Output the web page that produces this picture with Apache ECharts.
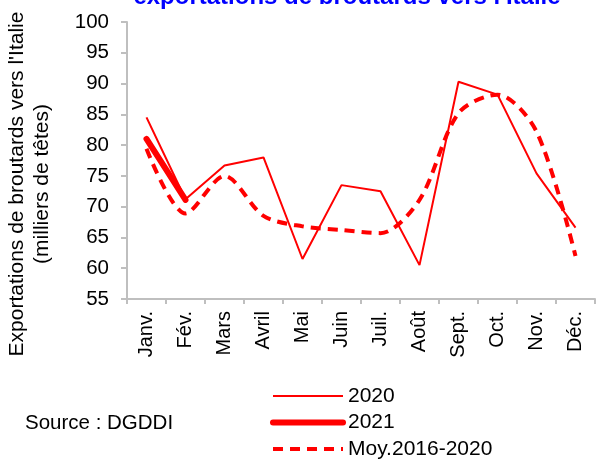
<!DOCTYPE html>
<html>
<head>
<meta charset="utf-8">
<script src="https://cdn.jsdelivr.net/npm/echarts@6/dist/echarts.min.js"></script>
<style>
  html, body { margin: 0; padding: 0; background: #fff; }
  #chart { width: 597px; height: 461px; }
</style>
</head>
<body>
<div id="chart"></div>
<script>
const months = ['Janv.', 'Fév.', 'Mars', 'Avril', 'Mai', 'Juin', 'Juil.', 'Août', 'Sept.', 'Oct.', 'Nov.', 'Déc.'];
const exports2020 = [84.5, 71.2, 76.7, 78.0, 61.5, 73.5, 72.5, 60.5, 90.3, 88.2, 75.4, 66.6];
const exports2021 = [81.0, 71.1];
const avg2016to2020 = [79.4, 68.9, 75.0, 68.5, 66.8, 66.2, 65.7, 71.1, 85.2, 88.2, 82.2, 62.0];

const font = 'Liberation Sans, Arial, sans-serif';
const red = '#FF0000';
const axisGrey = '#BFBFBF';

const chart = echarts.init(document.getElementById('chart'), null, { renderer: 'canvas' });

const option = {
  backgroundColor: '#fff',
  animation: false,
  grid: {
    left: 127,
    right: 2,
    top: 22,
    bottom: 162
  },
  legend: {
    orient: 'vertical',
    left: 270,
    top: 385,
    padding: 0,
    height: 76,
    itemWidth: 70,
    itemHeight: 14,
    itemGap: 4.5,
    data: [
      { name: '2020', lineStyle: { width: 2 } },
      { name: '2021', lineStyle: { width: 6, cap: 'round' } },
      { name: 'Moy.2016-2020', lineStyle: { width: 4, type: [10, 7] } }
    ],
    itemStyle: { opacity: 0 },
    textStyle: {
      fontFamily: font,
      fontSize: 21,
      lineHeight: 22,
      color: '#000'
    }
  },
  graphic: [
    {
      type: 'text',
      x: 347,
      y: 9,
      style: {
        text: "exportations de broutards vers l'Italie",
        fill: '#0000FF',
        font: 'bold 24px ' + font,
        textAlign: 'center',
        textVerticalAlign: 'bottom'
      }
    },
    {
      type: 'text',
      x: 30,
      y: 184,
      rotation: Math.PI / 2,
      style: {
        text: "Exportations de broutards vers l'Italie\n(milliers de têtes)",
        fill: '#000',
        font: '21px ' + font,
        lineHeight: 25,
        textAlign: 'center',
        textVerticalAlign: 'middle'
      }
    },
    {
      type: 'text',
      x: 25,
      y: 423,
      style: {
        text: 'Source : DGDDI',
        fill: '#000',
        font: '20.5px ' + font,
        textVerticalAlign: 'middle'
      }
    }
  ],
  xAxis: {
    type: 'category',
    data: months,
    boundaryGap: true,
    axisLine: {
      lineStyle: { color: axisGrey, width: 2 }
    },
    axisTick: {
      show: true,
      length: 5,
      lineStyle: { color: axisGrey, width: 2 }
    },
    axisLabel: {
      rotate: 90,
      margin: 12,
      interval: 0,
      color: '#000',
      fontFamily: font,
      fontSize: 20
    },
    splitLine: { show: false }
  },
  yAxis: {
    type: 'value',
    min: 55,
    max: 100,
    interval: 5,
    axisLine: {
      show: true,
      lineStyle: { color: axisGrey, width: 2 }
    },
    axisTick: {
      show: true,
      length: 6,
      lineStyle: { color: axisGrey, width: 2 }
    },
    axisLabel: {
      margin: 18,
      color: '#000',
      fontFamily: font,
      fontSize: 20.5
    },
    splitLine: { show: false }
  },
  series: [
    {
      name: '2020',
      type: 'line',
      data: exports2020,
      symbol: 'none',
      z: 2,
      itemStyle: { color: red },
      lineStyle: { color: red, width: 2 }
    },
    {
      name: '2021',
      type: 'line',
      data: exports2021,
      symbol: 'none',
      z: 4,
      itemStyle: { color: red },
      lineStyle: { color: red, width: 6, cap: 'round', join: 'round' }
    },
    {
      name: 'Moy.2016-2020',
      type: 'line',
      data: avg2016to2020,
      symbol: 'none',
      smooth: 0.3,
      z: 3,
      itemStyle: { color: red },
      lineStyle: { color: red, width: 4, type: [10, 7] }
    }
  ]
};

chart.setOption(option);
</script>
</body>
</html>
